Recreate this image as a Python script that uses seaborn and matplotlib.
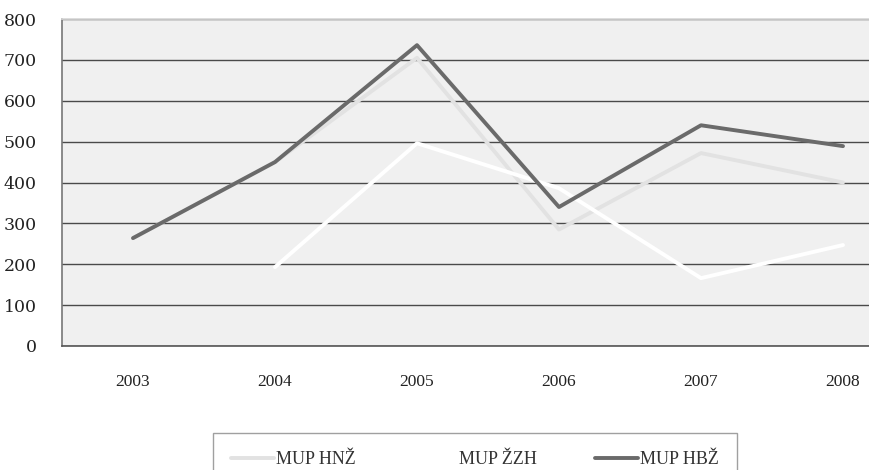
import numpy as np
import pandas as pd
import matplotlib
matplotlib.use("Agg")
import matplotlib.pyplot as plt
import seaborn as sns

years = ["2003", "2004", "2005", "2006", "2007", "2008"]
hnz = [264, 450, 705, 285, 472, 400]          # MUP HNŽ (light grey)
zzh = [np.nan, 193, 496, 386, 166, 247]       # MUP ŽZH (white)
hbz = [264, 450, 736, 340, 540, 489]          # MUP HBŽ (dark grey)
series_names = ["MUP HNŽ", "MUP ŽZH", "MUP HBŽ"]
yticks = [0, 100, 200, 300, 400, 500, 600, 700, 800]

sns.set_theme(style="white")
plt.rcParams["font.family"] = ["Liberation Serif", "DejaVu Serif"]

fig = plt.figure(figsize=(8.7, 4.7), dpi=100)
fig.patch.set_facecolor("white")
ax = fig.add_axes([62 / 870, 1 - 346 / 470, (914 - 62) / 870, (346 - 19) / 470])
ax.set_facecolor("#f0f0f0")

xpos = np.arange(len(years))
colors = ["#e2e2e2", "#ffffff", "#6a6a6a"]
for name, vals, c in zip(series_names, [hnz, zzh, hbz], colors):
    sns.lineplot(x=xpos, y=vals, ax=ax, color=c, linewidth=2.8, label=name)

ax.set_xlim(-0.5, len(years) - 0.5)
ax.set_ylim(0, 800)
ax.set_yticks(yticks)
ax.set_yticklabels([str(v) for v in yticks], fontsize=12.5, color="#222222",
                   family=["DejaVu Serif"])
ax.yaxis.grid(True, color="#4a4a4a", linewidth=1.0)
ax.set_axisbelow(True)

ax.set_xticks(np.arange(-0.5, len(years)), minor=False)
ax.set_xticklabels([])
ax.set_xticks(xpos, minor=True)
ax.set_xticklabels(years, minor=True, fontsize=12.5, color="#222222")
ax.tick_params(axis="x", which="major", length=5, width=0.8, color="#777777", direction="out")
ax.tick_params(axis="x", which="minor", length=0, pad=20)
ax.tick_params(axis="y", which="major", length=4, width=0.8, color="#777777", direction="out", pad=14)

for s in ["top", "right"]:
    ax.spines[s].set_visible(True)
    ax.spines[s].set_color("#d8d8d8")
ax.spines["left"].set_color("#777777")
ax.spines["bottom"].set_color("#555555")
ax.spines["left"].set_linewidth(1.2)
ax.spines["bottom"].set_linewidth(1.2)

ax.get_legend().remove()
handles, labels = ax.get_legend_handles_labels()
leg = fig.legend(handles, labels, loc="upper left", bbox_to_anchor=(213 / 870, 1 - 433 / 470),
                 ncol=3, frameon=True, fontsize=13, handlelength=2.4, columnspacing=3.2,
                 borderpad=1.0, borderaxespad=0.0, handletextpad=0.1, fancybox=False)
leg.get_frame().set_edgecolor("#888888")
leg.get_frame().set_linewidth(1.0)
for t in leg.get_texts():
    t.set_color("#333333")

fig.savefig("out.png", dpi=100, facecolor="white")
